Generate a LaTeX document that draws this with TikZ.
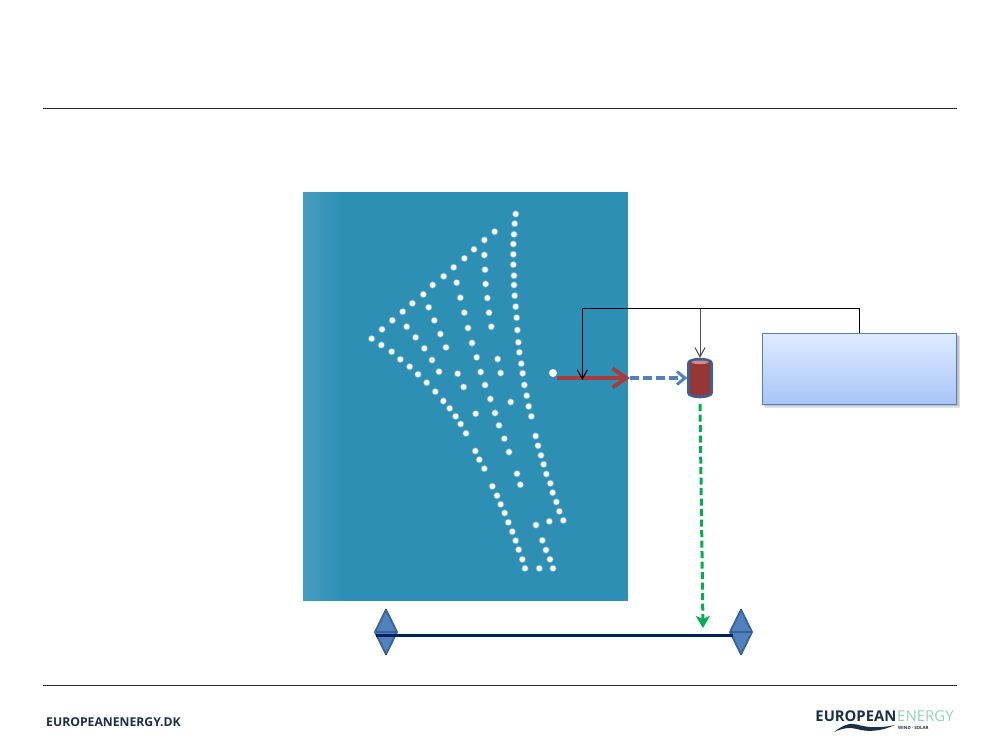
\documentclass[tikz,border=0pt]{standalone}
\usepackage{fontspec}
\setmainfont{Open Sans}
\usetikzlibrary{arrows.meta}
\definecolor{navy}{HTML}{1B2F4B}
\definecolor{sea}{HTML}{2E8FB5}
\definecolor{seal}{HTML}{459DBE}
\definecolor{lineblue}{HTML}{002060}
\definecolor{bord}{HTML}{3A6199}
\definecolor{midblue}{HTML}{4F81BD}
\definecolor{brick}{HTML}{A73C3A}
\definecolor{tankred}{HTML}{953735}
\definecolor{tanktop}{HTML}{CD8C8A}
\definecolor{mint}{HTML}{8FD6B4}
\definecolor{grn}{HTML}{00B050}
\definecolor{boxtop}{HTML}{E0EBFF}
\definecolor{boxbot}{HTML}{A8C5F8}
\tikzset{
 rule/.style={draw=navy,line width=1pt},
 infobox/.style={draw=midblue,line width=1pt,top color=boxtop,bottom color=boxbot,
   minimum width=194pt,minimum height=71pt,inner sep=0pt},
 feed/.style={draw=black,line width=1pt,-{Straight Barb[length=9pt,width=10pt,line width=1.1pt]}},
 dot/.style={fill=white,draw=none},
 halo/.style={fill=white,opacity=.3,draw=none},
 sortshape/.style={draw=bord,fill=midblue,line width=1.8pt,line join=round},
}
\begin{document}
\begin{tikzpicture}[x=1pt,y=-1pt]
\useasboundingbox (0,0) rectangle (1000,750);
\draw[rule] (43,108.5) -- (957,108.5);
\draw[rule] (43,685.5) -- (957,685.5);
% sea
\fill[sea] (303,192) rectangle (628,601);
\foreach \i in {0,2,...,38} {
  \pgfmathsetmacro{\mixv}{100-2.5*\i}
  \fill[seal!\mixv!sea] (303+\i,192) rectangle (305.2+\i,601);
}
% dots (upper part)
\foreach \a/\b in {497/42,494/71,492/103,490/132,490/163,490/194,492/227,492/255,494/287,497/320,500/353,502/390,505/427,508/457,514/491,518/520,523/555,
434/95,403/120,372/148,343/175,311/202,281/229,248/255,220/283,187/310,158/335,127/361,96/388,65/416,94/435,125/455,151/478,179/500,204/523,230/548,
403/165,405/209,407/252,412/294,417/338,424/380,320/248,331/293,343/338,354/384,366/429,380/472,392/516,405/555,
236/322,253/361,271/402,288/442,170/380,197/412,223/445,246/480,267/515,323/521,443/477,452/519,341/561}
 {\fill[halo] (350+\a/3,200+\b/3) circle (3.6pt);\fill[dot] (350+\a/3,200+\b/3) circle (2.8pt);}
% dots (lower part)
\foreach \a/\b in {106/35,130/63,149/85,167/109,182/132,198/160,271/57,380/47,332/66,386/79,394/109,227/101,285/99,297/136,313/176,327/216,226/213,238/239,253/266,407/168,414/197,423/226,431/253,439/282,451/310,458/338,469/366,478/394,490/421,448/424,408/435,351/281,361/314,277/319,291/347,302/373,314/399,325/427,337/455,347/482,356/509,367/538,375/565,418/565,459/565,450/538,438/510,427/481}
 {\fill[halo] (400+\a/3,380+\b/3) circle (3.6pt);\fill[dot] (400+\a/3,380+\b/3) circle (2.8pt);}
\fill[white] (553,373) circle (4pt);
% nodes
\fill[black,opacity=.12] (765,335.5) rectangle (959.5,407.5);
\fill[black,opacity=.15] (764,334.5) rectangle (958.5,406);
\node[infobox] (box) at (859.7,368.5) {};
\node[inner sep=0pt,minimum width=25pt,minimum height=40pt] (tank) at (700,378) {};
\draw[bord,fill=tankred,line width=2.6pt]
  (688.5,363) arc[start angle=180,end angle=360,x radius=11.5,y radius=4] -- (711.5,393)
  arc[start angle=0,end angle=180,x radius=11.5,y radius=4] -- cycle;
\fill[tanktop] (700,362.3) ellipse (8.5 and 1.8);
\coordinate (wellhead) at (557,378);
\coordinate (shore) at (630,378);
\coordinate (bus) at (703,628);
% connectors
\draw[brick,line width=4pt,-{Straight Barb[length=14pt,width=19pt,line width=4pt]}] (wellhead) -- (shore);
\draw[midblue,line width=3.2pt,dash pattern=on 9pt off 4pt,-{Straight Barb[length=8pt,width=13pt,line width=3pt]}] (shore) -- (tank.west|-shore);
\draw[grn,line width=3pt,dash pattern=on 7pt off 3.5pt,-{Stealth[length=12pt,width=14pt,inset=3pt]}] (tank.south)++(0,6) -- (bus);
\draw[feed] (box.north) -- ++(0,-24) -| (582.3,380);
\draw[feed,draw=black!70] (700,309) -- (tank.north);
% bus bar
\draw[sortshape] (375,632) -- (386,609.5) -- (397,632) -- (386,654.5) -- cycle (375,632) -- (397,632);
\draw[sortshape] (730,632) -- (741,609.5) -- (752,632) -- (741,654.5) -- cycle (730,632) -- (752,632);
\draw[lineblue,line width=3pt] (376,635) -- (733,635);
% footer
\node[anchor=west,inner sep=0pt,text=navy,font=\fontsize{12.2}{12}\selectfont\bfseries] (url) at (46,722) {EUROPEANENERGY.DK};
\node[anchor=east,inner sep=0pt,text=navy,font=\fontsize{14.8}{15}\selectfont\bfseries] (logoa) at (896.5,716) {EUROPEAN};
\node[anchor=west,inner sep=0pt,text=mint,font=\fontsize{15}{15}\selectfont] (logob) at (897,716) {ENERGY};
\node[anchor=west,inner sep=0pt,text=navy,font=\fontsize{4.4}{5}\selectfont\bfseries] (logoc) at (898,727.5) {WIND · SOLAR};
\fill[navy] (834,732) .. controls (843,725) and (850,722.5) .. (857,724.5) .. controls (868,728) and (882,728) .. (895,725) .. controls (882,731) and (868,732.5) .. (857,729) .. controls (850,727) and (843,728) .. (834,732) -- cycle;
\end{tikzpicture}
\end{document}
